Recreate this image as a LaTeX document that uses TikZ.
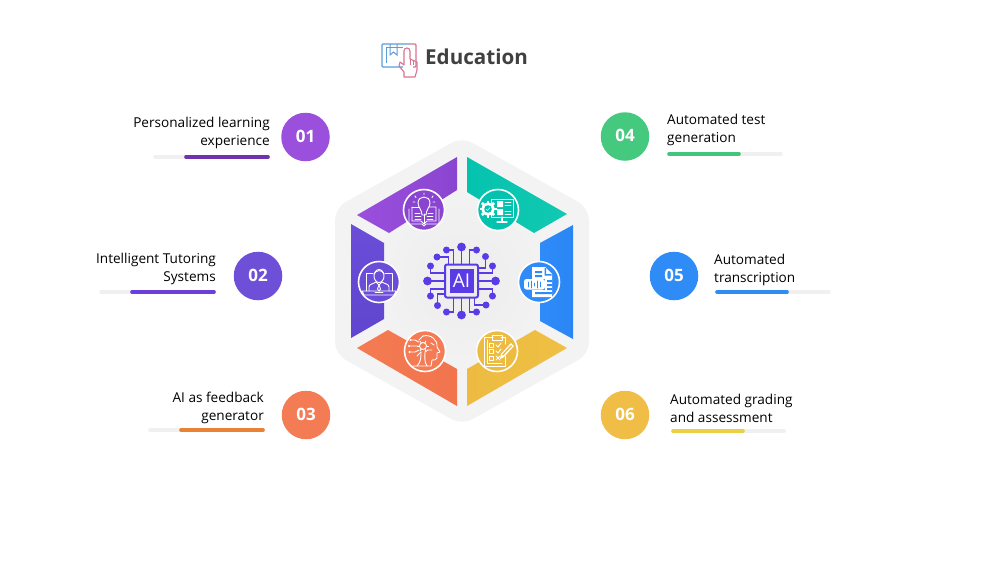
\documentclass[tikz,border=0pt]{standalone}
\usepackage{fontspec}
\setmainfont{Open Sans}
\definecolor{hexbg}{HTML}{F3F3F3}
\definecolor{hexin}{HTML}{ECECEC}
\definecolor{barbg}{HTML}{F0F0F0}
\definecolor{aiblue}{HTML}{5B3BE6}
\definecolor{cA}{HTML}{9A4FDD}\definecolor{cAa}{HTML}{8A45D0}
\definecolor{cB}{HTML}{6B4DD8}\definecolor{cBb}{HTML}{5F45CF}
\definecolor{cC}{HTML}{F47B53}\definecolor{cCc}{HTML}{F1744D}
\definecolor{cD}{HTML}{04C3AE}\definecolor{cDd}{HTML}{12C9B2}
\definecolor{cE}{HTML}{2E8BF8}\definecolor{cEe}{HTML}{2A86F5}
\definecolor{cF}{HTML}{EDBB42}\definecolor{cFf}{HTML}{EFC043}
\definecolor{bA}{HTML}{7232AE}\definecolor{bB}{HTML}{6A3FDB}
\definecolor{bC}{HTML}{EA8235}\definecolor{bD}{HTML}{43C57E}
\definecolor{bE}{HTML}{2F8CF3}\definecolor{bF}{HTML}{EBCF45}
\definecolor{nA}{HTML}{9B4FDD}\definecolor{nB}{HTML}{6D4FD8}
\definecolor{nC}{HTML}{F47C55}\definecolor{nD}{HTML}{45C97F}
\definecolor{nE}{HTML}{2F8BF5}\definecolor{nF}{HTML}{F0BE46}
\definecolor{titlegray}{HTML}{404040}
\definecolor{icoblue}{HTML}{5B9FD8}\definecolor{icopink}{HTML}{D9748F}
\newcommand{\numtxt}[1]{\raisebox{2pt}{#1}}
\tikzset{
 numdot/.style={circle,minimum size=48.5pt,inner sep=0pt,text=white,font=\fontsize{17}{17}\selectfont\bfseries},
 rlabel/.style={anchor=east,align=right,inner sep=0pt,text=black,font=\fontsize{13.6}{18}\selectfont},
 llabel/.style={anchor=west,align=left,inner sep=0pt,text=black,font=\fontsize{13.6}{18}\selectfont},
 track/.style={line width=3.6pt,line cap=round,barbg},
 meter/.style={line width=3.6pt,line cap=round},
 badge/.style={circle,draw=white,line width=1.6pt,minimum size=41pt,inner sep=0pt},
 ico/.style={draw=white,line width=.9pt,line cap=round,line join=round},
 trace/.style={draw=aiblue,line width=1.9pt},
}
\begin{document}
\begin{tikzpicture}[x=1pt,y=-1pt]
\useasboundingbox (0,0) rectangle (1000,563);
\fill[white] (0,0) rectangle (1000,563);
% background hexagon
\fill[hexbg,rounded corners=12pt] (462,137) -- (589,208) -- (589,354) -- (462,425) -- (335,354) -- (335,208) -- cycle;
\begin{scope}
\clip (462,190) -- (540,235) -- (540,327) -- (462,372) -- (384,327) -- (384,235) -- cycle;
\shade[inner color=hexin,outer color=hexbg] (462,281) circle[radius=95];
\end{scope}
% segments
\shade[left color=cA,right color=cAa] (457,157) -- (457,190) -- (389,233) -- (357,215) -- cycle;
\shade[left color=cD,right color=cDd] (467,157) -- (567,214) -- (534,233) -- (467,192) -- cycle;
\shade[left color=cE,right color=cEe] (573,225) -- (540,243) -- (540,321) -- (573,339) -- cycle;
\shade[top color=cB,bottom color=cBb] (351,224) -- (384,243) -- (384,319) -- (351,338) -- cycle;
\shade[left color=cC,right color=cCc] (388,330) -- (357,348) -- (457,406) -- (457,369) -- cycle;
\shade[left color=cF,right color=cFf] (535,330) -- (567,348) -- (467,406) -- (467,369) -- cycle;
% badges
\node[badge,fill=cAa] (b1) at (424,210) {};
\node[badge,fill=cD] (b4) at (498,210) {};
\node[badge,fill=cE] (b5) at (539,282) {};
\node[badge,fill=cB] (b2) at (379,282) {};
\node[badge,fill=cC] (b3) at (425,351) {};
\node[badge,fill=cF] (b6) at (497,351) {};
% icon 1: book and bulb
\begin{scope}[shift={(b1.center)}]
\draw[ico] (-15,-1) -- (-15,14) -- (-2,14) -- (0,16) -- (2,14) -- (15,14) -- (15,-1);
\draw[ico] (-12,-3) -- (-12,11) -- (-3,11) -- (0,14) -- (3,11) -- (12,11) -- (12,-3) -- (5,-3);
\draw[ico] (-12,-3) -- (-5,-3);
\draw[ico] (0,4) -- (0,14);
\draw[ico] (-2,5) .. controls (-2,0) and (-6,-3) .. (-6,-7) .. controls (-6,-15) and (6,-15) .. (6,-7) .. controls (6,-3) and (2,0) .. (2,5) -- cycle;
\draw[ico] (-9,3) -- (-4,3) (-9,6) -- (-3,6) (-9,9) -- (-3,9) (4,3) -- (9,3) (3,6) -- (9,6) (3,9) -- (9,9);
\draw[ico] (0,-17) -- (0,-15.5) (-9,-14) -- (-8,-12.5) (9,-14) -- (8,-12.5) (-11,-8) -- (-9,-8) (11,-8) -- (9,-8);
\end{scope}
% icon 4: gear and monitor
\begin{scope}[shift={(b4.center)}]
\draw[ico] (-7,-11) rectangle (15,7);
\fill[white] (-1,-9) rectangle (5,-3) (-1,-1) rectangle (5,5);
\draw[ico] (7,-8) -- (13,-8) (7,-5) -- (13,-5) (7,1) -- (13,1) (7,4) -- (13,4);
\draw[ico,line width=1.2pt] (4,7) -- (4,11) (-1,12) -- (9,12);
\fill[white] (-10,-1) circle[radius=6.5];
\foreach \a in {0,45,...,315}{\fill[white] (-10,-1) ++(\a:5) ++(\a-90:1.4) -- ++(\a:3.5) -- ++(\a+90:2.8) -- ++(\a+180:3.5) -- cycle;}
\fill[cD] (-10,-1) circle[radius=3.8];
\draw[white,line width=.5pt] (-12,-1) -- (-10.5,0.5) -- (-8,-2.5);
\end{scope}
% icon 5: document with voice bubble
\begin{scope}[shift={(b5.center)}]
\fill[white] (-7,-15) -- (6,-15) -- (13,-8) -- (13,15) -- (-7,15) -- cycle;
\fill[cE] (7,-14) -- (7,-8) -- (12.5,-8) -- (12.5,-6.5) -- (5.5,-6.5) -- (5.5,-14) -- cycle;
\fill[cE] (-4,-11) rectangle (3,-9) (-4,-7) rectangle (3,-5);
\fill[cE] (-15,-3.5) rectangle (6,8);
\fill[white,rounded corners=2.5pt] (-15,-3) rectangle (6,7.5);
\draw[cE,line width=.9pt,line cap=round] (-11,0) -- (-11,5) (-8,-1) -- (-8,6) (-5,1) -- (-5,4) (-2,-1) -- (-2,6) (1,0) -- (1,5);
\fill[cE] (8,-2) rectangle (13,0) (8,2) rectangle (13,4) (8,6) rectangle (13,8) (-4,10) rectangle (13,12);
\end{scope}
% icon 2: laptop with person
\begin{scope}[shift={(b2.center)}]
\draw[ico] (-13,9) -- (-13,-9) -- (-6,-9) (6,-9) -- (13,-9) -- (13,9);
\draw[ico] (-17,9) -- (17,9) -- (15,13) -- (-15,13) -- cycle;
\draw[ico] (-4,10.5) -- (4,10.5);
\draw[ico] (0,-6) circle[x radius=5,y radius=6.5];
\draw[ico] (-5,-8) .. controls (-3,-12) and (3,-13) .. (5,-8);
\draw[ico] (-10,9) -- (-10,5) .. controls (-10,2) and (-6,2) .. (-3,0) -- (0,3) -- (3,0) .. controls (6,2) and (10,2) .. (10,5) -- (10,9);
\draw[ico] (0,3) -- (-1.5,7) -- (0,9) -- (1.5,7) -- cycle;
\end{scope}
% icon 3: head and tree
\begin{scope}[shift={(b3.center)}]
\draw[ico] (-2,-15) .. controls (6,-17) and (13,-11) .. (12,-4) -- (15,1) -- (12,2) -- (12,7) .. controls (12,9) and (9,9) .. (7,9) -- (6,15) -- (-12,15);
\draw[ico] (-8,15) .. controls (-4,11) and (-4,6) .. (-4,1) (2,15) .. controls (-1,11) and (0,6) .. (0,1);
\draw[ico] (-6,-11) -- (-2,-15);
\draw[ico] (-2,-5) circle[radius=3.5];
\foreach \a in {0,60,...,300}{\draw[ico] (-2,-5) ++(\a:3.5) -- ++(\a:2);}
\draw[ico] (-7,-5) -- (-16,-5) (-6,-9) -- (-10,-11) -- (-14,-11) (-6,-1) -- (-10,1) -- (-15,1) (-4,1) -- (-8,5) (0,1) -- (3,-1) -- (7,-1);
\fill[white] (-16,-5) circle[radius=1.2] (-14.5,-11) circle[radius=1.2] (-15.5,1) circle[radius=1.2];
\draw[ico] (6,-8) -- (9,-6);
\end{scope}
% icon 6: clipboard and pencil
\begin{scope}[shift={(b6.center)}]
\draw[ico,line width=1pt] (-4,-14) -- (-13,-14) -- (-13,15) -- (8,15) -- (8,5);
\draw[ico,line width=1pt] (4,-14) -- (8,-14) -- (8,-7);
\draw[ico] (-10,-11) -- (-10,12) -- (5,12);
\draw[ico,line width=1pt] (-5,-16) rectangle (5,-11);
\draw[ico] (-7.5,-8) rectangle (-3.5,-4) (-7.5,-1.5) rectangle (-3.5,2.5) (-7.5,5) rectangle (-3.5,9);
\draw[ico] (-1,-6) -- (1,-4) -- (4,-8) (-1,0) -- (1,2) -- (4,-2) (-1,5) -- (3,9) (3,5) -- (-1,9);
\fill[white] (3,8) -- (4,3) -- (14,-8) -- (17,-5) -- (7,6) -- cycle;
\fill[cF] (5.2,3.5) -- (14,-6) -- (15,-5) -- (6.2,4.5) -- cycle;
\end{scope}
% central AI chip
\begin{scope}[shift={(461.5,281)}]
\foreach \r in {0,90,180,270}{
\begin{scope}[rotate=\r]
\draw[trace] (0,-34) -- (0,-16);
\fill[aiblue] (0,-34) circle[radius=4.4];
\foreach \s in {-1,1}{
 \draw[trace] (\s*15,-31) -- (\s*8,-31) -- (\s*8,-16);
 \fill[aiblue] (\s*15,-31) circle[radius=3.5];
}
\draw[trace] (-24.5,-24) -- (-13,-24) -- (-13,-16);
\fill[aiblue] (-24.5,-24) circle[radius=3.5];
\end{scope}}
\draw[aiblue,line width=2pt,fill=hexin,rounded corners=2pt] (-16.5,-16.5) rectangle (16.5,16.5);
\node[fill=aiblue,minimum size=24pt,inner sep=0pt,text=white,font=\fontsize{19}{19}\selectfont] (ai) at (0,0) {AI};
\end{scope}
% title
\node[anchor=west,inner sep=0pt,text=titlegray,font=\fontsize{20.6}{24}\selectfont\bfseries] (title) at (425,57) {Education};
% title icon
\draw[icoblue,line width=1.1pt,rounded corners=1pt] (403,67) -- (382,67) -- (382,44) -- (409,44);
\draw[icoblue,line width=.8pt] (386,63) -- (386,47) -- (403,47);
\draw[icoblue,line width=1pt] (390,44) -- (390,55) -- (393.5,52) -- (397,55) -- (397,44);
\draw[icopink,line width=1.1pt,rounded corners=1pt] (409,44) -- (416,44) -- (416,67) -- (413,67);
\draw[icopink,line width=1.1pt,line join=round] (404,77) -- (404,72) -- (399,66) -- (400,62) -- (404,65) -- (404,51) .. controls (404,47) and (410,47) .. (410,51) -- (410,59) -- (417,62) -- (417,70) -- (415,77) -- cycle;
\draw[icopink,line width=.8pt] (413,60.5) -- (413,65) (410,59) -- (410,65);
% numbered items
\node[numdot,fill=nA] (n1) at (305.5,137) {\numtxt{01}};
\node[numdot,fill=nB] (n2) at (258,276) {\numtxt{02}};
\node[numdot,fill=nC] (n3) at (306,415) {\numtxt{03}};
\node[numdot,fill=nD] (n4) at (625,136.5) {\numtxt{04}};
\node[numdot,fill=nE] (n5) at (674,276) {\numtxt{05}};
\node[numdot,fill=nF] (n6) at (625,415) {\numtxt{06}};
\node[rlabel] (t1) at (270,133) {Personalized learning\\experience};
\node[rlabel] (t2) at (216,269) {Intelligent Tutoring\\Systems};
\node[rlabel] (t3) at (264,408) {AI as feedback\\generator};
\node[llabel] (t4) at (667,129.5) {Automated test\\generation};
\node[llabel] (t5) at (714,269.5) {Automated\\transcription};
\node[llabel] (t6) at (670,408) {Automated grading\\and assessment};
% bars
\draw[track] (155,157) -- (268,157);
\draw[meter,bA] (186,157) -- (268,157);
\draw[track] (101,292) -- (214,292);
\draw[meter,bB] (132,292) -- (214,292);
\draw[track] (150,430) -- (263,430);
\draw[meter,bC] (181,430) -- (263,430);
\draw[track] (669,154) -- (781,154);
\draw[meter,bD] (669,154) -- (739,154);
\draw[track] (717,292) -- (829,292);
\draw[meter,bE] (717,292) -- (787,292);
\draw[track] (673,431) -- (784,431);
\draw[meter,bF] (673,431) -- (743,431);
\end{tikzpicture}
\end{document}
